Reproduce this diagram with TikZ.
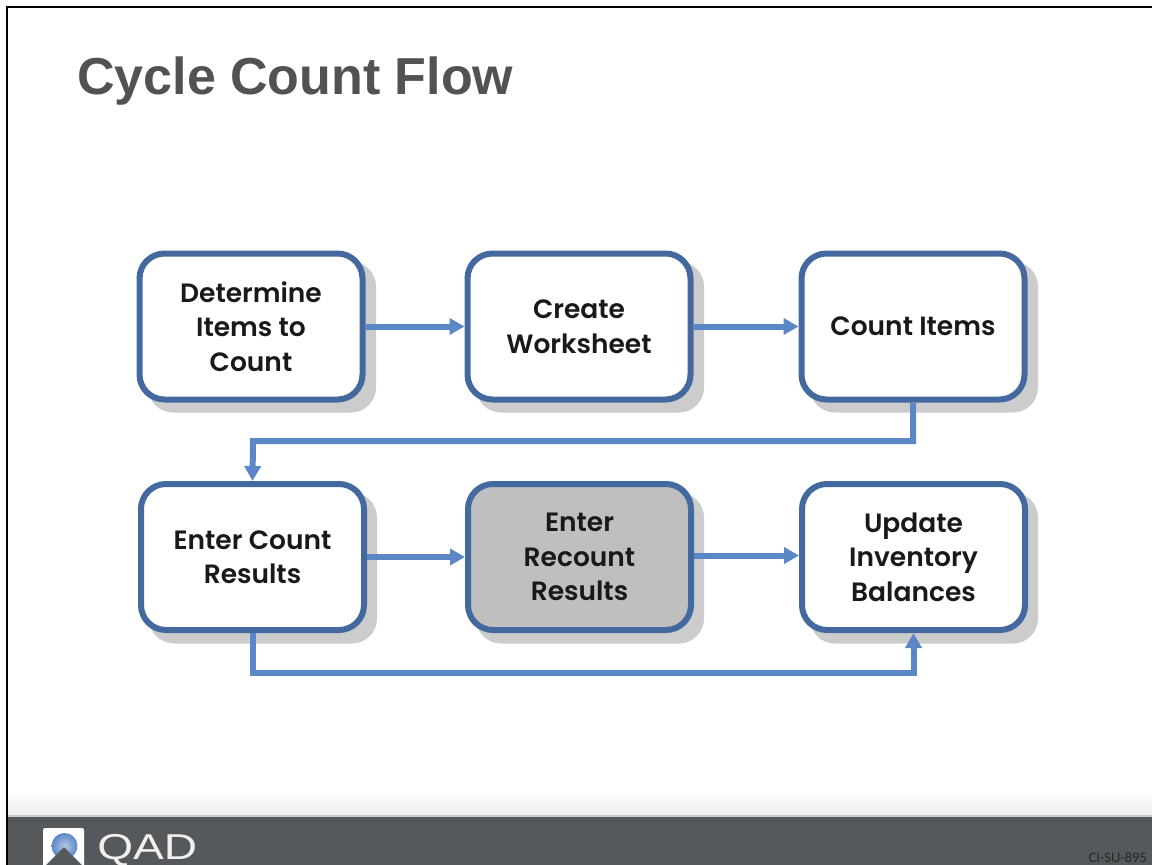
\documentclass[tikz,border=0pt]{standalone}
\usepackage{fontspec}
\usetikzlibrary{arrows.meta,positioning}
\setmainfont{Liberation Sans}
\newfontfamily\boxfont{Poppins SemiBold}
\newfontfamily\smallfont{Carlito}
\definecolor{boxline}{HTML}{44699F}
\definecolor{flow}{HTML}{5B87C6}
\definecolor{shade}{HTML}{CCCCCC}
\definecolor{recount}{HTML}{BFBFBF}
\definecolor{titlegrey}{HTML}{525252}
\definecolor{bar}{HTML}{56595C}
\tikzset{
  x=1pt,y=-1pt,
  stepbox/.style={draw=boxline,line width=6pt,fill=white,rounded corners=25pt,minimum width=223pt,minimum height=146pt,
    align=center,inner sep=0pt,text=black!90,font=\boxfont\fontsize{26.5}{34.5}\selectfont,
    execute at begin node={\vspace*{2pt}}},
  boxshadow/.style={fill=shade,rounded corners=25pt,minimum width=228pt,minimum height=151pt,inner sep=0pt},
  flowline/.style={draw=flow,line width=6pt,-{Triangle[length=15pt,width=16pt]}},
}
\begin{document}
\begin{tikzpicture}
\useasboundingbox (0,0) rectangle (1152,865);
\fill[white] (0,0) rectangle (1152,865);
% footer
\shade[top color=white,bottom color=black!7] (8,790) rectangle (1152,815);
\fill[black!20] (8,815) rectangle (1152,817);
\fill[bar] (8,817) rectangle (1152,865);
% page rule
\draw[line width=2.5pt,black] (7,865) -- (7,7) -- (1152,7);
% title
\node[anchor=base west,inner sep=0pt,text=titlegrey,font=\bfseries\fontsize{52}{60}\selectfont] (title) at (77,94) {Cycle Count Flow};
% shadows
\node[boxshadow] (s1) at (262,337) {};
\node[boxshadow] (s2) at (590,337) {};
\node[boxshadow] (s3) at (924,337) {};
\node[boxshadow] (s4) at (263,568) {};
\node[boxshadow] (s5) at (590,568) {};
\node[boxshadow] (s6) at (924,568) {};
% boxes
\node[stepbox] (b1) at (251,326.5) {Determine\\Items to\\Count};
\node[stepbox] (b2) at (579,326.5) {Create\\Worksheet};
\node[stepbox] (b3) at (913,326.5) {Count Items};
\node[stepbox] (b4) at (252.5,557) {Enter Count\\Results};
\node[stepbox,fill=recount] (b5) at (579.5,557) {Enter\\Recount\\Results};
\node[stepbox] (b6) at (913.5,557) {Update\\Inventory\\Balances};
% connectors
\draw[flowline] (b1.east) -- (b2.west);
\draw[flowline] (b2.east) -- (b3.west);
\draw[flowline] (b3.south) |- (253,441) -- (b4.north);
\draw[flowline] (b4.east) -- (b5.west);
\draw[flowline] ([yshift=1.5pt]b5.east) -- ([yshift=1.5pt]b6.west);
\draw[flowline] (b4.south) -- (252.5,673) -- (913.5,673) -- (b6.south);
% logo
\begin{scope}
\clip (0,817) rectangle (1152,865);
\fill[white,rounded corners=2pt] (43,828) rectangle (84,870);
\shade[inner color=flow!45!white,outer color=flow] (64.5,846) circle (13);
\fill[bar] (64,847) -- (82,865) -- (46,865) -- cycle;
\end{scope}
\node[anchor=base west,inner sep=0pt,text=black!6,font=\fontsize{36}{38}\selectfont,xscale=1.28] (qad) at (97,859.5) {QAD};
\node[anchor=base east,inner sep=0pt,text=black!85,font=\smallfont\fontsize{14.5}{15}\selectfont] (code) at (1147,862) {CI-SU-895};
\end{tikzpicture}
\end{document}
